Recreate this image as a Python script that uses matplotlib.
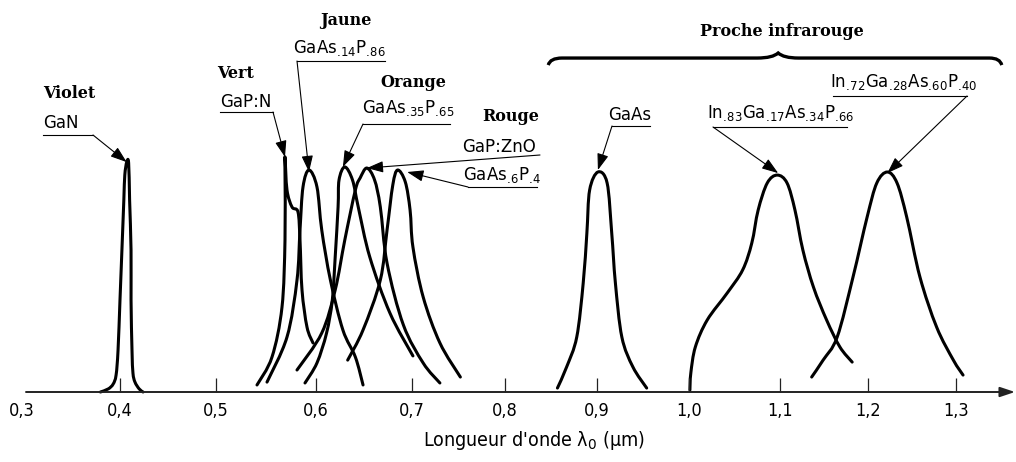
import numpy as np
import matplotlib
matplotlib.use('Agg')
import matplotlib.pyplot as plt
from matplotlib.path import Path
from matplotlib.patches import PathPatch

# x axis ticks (micrometres) and their labels
ticks = [0.3, 0.4, 0.5, 0.6, 0.7, 0.8, 0.9, 1.0, 1.1, 1.2, 1.3]
tick_labels = ['0,3', '0,4', '0,5', '0,6', '0,7', '0,8', '0,9', '1,0', '1,1', '1,2', '1,3']

# emission spectra: wavelength (um) / relative intensity
gan_um = [0.380, 0.388, 0.393, 0.396, 0.398, 0.400, 0.402, 0.404, 0.405, 0.407,
          0.409, 0.410, 0.4115, 0.4115, 0.4125, 0.4135, 0.4156, 0.420, 0.424]
gan_i = [0.0, 0.014, 0.036, 0.077, 0.19, 0.42, 0.645, 0.873, 0.986, 1.045,
         1.041, 0.873, 0.645, 0.418, 0.19, 0.086, 0.045, 0.014, 0.0]

gapn_um = [0.541, 0.556, 0.566, 0.569, 0.569, 0.569, 0.571, 0.576, 0.582, 0.584, 0.586, 0.591, 0.597]
gapn_i = [0.032, 0.159, 0.386, 0.691, 0.995, 1.068, 0.918, 0.841, 0.818, 0.691, 0.464, 0.295, 0.223]

jaune_um = [0.551, 0.571, 0.581, 0.584, 0.587, 0.593, 0.601, 0.606, 0.615, 0.628, 0.641, 0.649]
jaune_i = [0.045, 0.25, 0.509, 0.736, 0.932, 1.009, 0.932, 0.736, 0.509, 0.282, 0.159, 0.032]

orange_um = [0.589, 0.601, 0.611, 0.617, 0.620, 0.623, 0.624, 0.630, 0.638, 0.644, 0.656, 0.677, 0.701]
orange_i = [0.041, 0.132, 0.268, 0.418, 0.614, 0.841, 0.964, 1.023, 0.964, 0.841, 0.614, 0.359, 0.164]

gapzno_um = [0.581, 0.606, 0.620, 0.630, 0.641, 0.646, 0.653, 0.661, 0.667, 0.674, 0.691, 0.712, 0.730]
gapzno_i = [0.10, 0.268, 0.464, 0.691, 0.918, 0.973, 1.018, 0.964, 0.841, 0.586, 0.305, 0.132, 0.041]

rouge_um = [0.633, 0.649, 0.667, 0.674, 0.680, 0.685, 0.693, 0.698, 0.701, 0.712, 0.730, 0.752]
rouge_i = [0.145, 0.282, 0.509, 0.736, 0.941, 1.009, 0.955, 0.827, 0.659, 0.432, 0.223, 0.068]

gaas_um = [0.857, 0.867, 0.878, 0.885, 0.889, 0.892, 0.901, 0.911, 0.916, 0.920, 0.927, 0.939, 0.954]
gaas_i = [0.018, 0.114, 0.25, 0.495, 0.723, 0.918, 1.0, 0.95, 0.723, 0.495, 0.25, 0.114, 0.018]

in83_um = [1.001, 1.002, 1.007, 1.020, 1.042, 1.059, 1.069, 1.076, 1.086, 1.097,
           1.108, 1.117, 1.126, 1.138, 1.153, 1.168, 1.182]
in83_i = [0.009, 0.086, 0.205, 0.327, 0.45, 0.555, 0.677, 0.827, 0.95, 0.986,
          0.95, 0.827, 0.645, 0.477, 0.327, 0.205, 0.136]

in72_um = [1.136, 1.149, 1.165, 1.183, 1.199, 1.210, 1.222, 1.233, 1.244, 1.259, 1.278, 1.297, 1.308]
in72_i = [0.068, 0.145, 0.25, 0.523, 0.795, 0.95, 1.0, 0.95, 0.795, 0.523, 0.295, 0.145, 0.077]

spectra = [(gan_um, gan_i), (gapn_um, gapn_i), (jaune_um, jaune_i), (orange_um, orange_i),
           (gapzno_um, gapzno_i), (rouge_um, rouge_i), (gaas_um, gaas_i),
           (in83_um, in83_i), (in72_um, in72_i)]

# compound names and where their arrows point (um, intensity)
compounds = ['GaN', 'GaP:N', r'GaAs$_{.\!14}$P$_{.\!86}$', r'GaAs$_{.\!35}$P$_{.\!65}$', 'GaP:ZnO',
             r'GaAs$_{.\!6}$P$_{.\!4}$', 'GaAs', r'In$_{.\!83}$Ga$_{.\!17}$As$_{.\!34}$P$_{.\!66}$',
             r'In$_{.\!72}$Ga$_{.\!28}$As$_{.\!60}$P$_{.\!40}$']
tip_um = [0.407, 0.569, 0.593, 0.628, 0.653, 0.695, 0.901, 1.098, 1.222]
tip_i = [1.045, 1.068, 1.0, 1.023, 1.018, 1.0, 1.009, 0.995, 0.995]

colour_names = ['Violet', 'Vert', 'Jaune', 'Orange', 'Rouge', 'Proche infrarouge']

W, H = 1016, 462


def fr(x, y):
    # pixel position -> axes fraction
    return (x / W, 1 - y / H)


# the hand drawn axis is not quite linear: piecewise map um -> pixel
scale_um = [0.2] + ticks + [1.4]
scale_px = [-76, 22, 120, 216, 316, 412, 505, 597, 689, 780, 868, 956, 1044]


def fwd(v):
    return np.interp(v, scale_um, scale_px)


def inv(p):
    return np.interp(p, scale_px, scale_um)


def smooth(xs, ys):
    pts = np.column_stack([xs, ys]).astype(float)
    verts = [pts[0]]
    codes = [Path.MOVETO]
    n = len(pts)
    for i in range(n - 1):
        p0 = pts[max(i - 1, 0)]
        p1 = pts[i]
        p2 = pts[i + 1]
        p3 = pts[min(i + 2, n - 1)]
        verts += [p1 + (p2 - p0) / 6, p2 - (p3 - p1) / 6, p2]
        codes += [Path.CURVE4] * 3
    return Path(verts, codes)


narrow = dict(family='DejaVu Sans', stretch='condensed')

fig = plt.figure(figsize=(W / 100, H / 100), dpi=100)
ax = fig.add_axes([0, 0, 1, 1])
ax.set_xscale('function', functions=(fwd, inv))
ax.set_xlim(inv(0), inv(W))
ax.set_ylim(-70 / 220, 392 / 220)
for s in ax.spines.values():
    s.set_visible(False)
ax.spines['bottom'].set_position(('data', 0))
ax.set_yticks([])
ax.set_xticks(ticks)
ax.set_xticklabels(tick_labels, fontsize=13, **narrow)
ax.xaxis.set_minor_locator(matplotlib.ticker.NullLocator())
ax.tick_params(axis='x', direction='in', length=10, width=0.9, pad=7, color='#222222')
xt = ax.xaxis.get_major_ticks()
xt[0].tick1line.set_visible(False)
xt[1].tick1line.set_color('#bbbbbb')

# axis line with arrow
ax.annotate('', xy=(1015 / W, 0), xycoords=('axes fraction', 'data'),
            xytext=(26 / W, 0), textcoords=('axes fraction', 'data'),
            arrowprops=dict(arrowstyle='-|>,head_length=0.9,head_width=0.3',
                            lw=1.4, color='#222222', shrinkA=0, shrinkB=0))

for xs, ys in spectra:
    ax.add_patch(PathPatch(smooth(xs, ys), fill=False, lw=2.2, color='black',
                           capstyle='round', joinstyle='round'))

# compound labels: text (left, baseline), underline (x0, x1, y), leader start
text_px = [(43, 128), (220, 107), (293, 53), (362, 113), (462, 152),
           (463, 180), (608, 120), (707, 118), (830, 87)]
uline_px = [(43, 93, 135), (220, 273, 112), (297, 385, 61), (363, 450, 124), None,
            (468, 537, 187), (612, 650, 126), (713, 847, 127), (833, 967, 96)]
start_px = [(93, 135), (273, 112), (297, 61), (363, 124), (540, 155),
            (468, 187), (612, 126), (713, 127), (967, 96)]

for name, tx, ty, tp, ul, st in zip(compounds, tip_um, tip_i, text_px, uline_px, start_px):
    ax.text(*fr(*tp), name, transform=ax.transAxes, fontsize=12,
            family='DejaVu Sans', va='baseline', ha='left')
    if ul is not None:
        ax.plot([ul[0] / W, ul[1] / W], [1 - ul[2] / H] * 2, transform=ax.transAxes,
                color='black', lw=0.8)
    ax.annotate('', xy=(tx, ty), xycoords='data', xytext=fr(*st), textcoords='axes fraction',
                arrowprops=dict(arrowstyle='-|>,head_length=1.0,head_width=0.35',
                                lw=0.8, color='black', shrinkA=0, shrinkB=0))

# colour group headings
head_px = [(43, 98), (217, 78), (320, 25), (380, 87), (482, 121), (700, 36)]
for name, hp in zip(colour_names, head_px):
    ax.text(*fr(*hp), name, transform=ax.transAxes, fontsize=11.5, fontweight='bold',
            family='DejaVu Serif', va='baseline', ha='left')

# curly brace over the near infrared group
brace = Path([(0.847, 1.486), (0.849, 1.518), (0.862, 1.518), (1.075, 1.518),
              (1.092, 1.518), (1.098, 1.541), (1.104, 1.518), (1.121, 1.518),
              (1.338, 1.518), (1.350, 1.518), (1.352, 1.486)],
             [Path.MOVETO, Path.CURVE3, Path.CURVE3, Path.LINETO, Path.CURVE3, Path.CURVE3,
              Path.CURVE3, Path.CURVE3, Path.LINETO, Path.CURVE3, Path.CURVE3])
ax.add_patch(PathPatch(brace, fill=False, lw=2.4, color='black'))

ax.text(*fr(534, 440), r"Longueur d'onde λ$_0$ (µm)", transform=ax.transAxes,
        fontsize=14, ha='center', va='center', **narrow)

fig.savefig('out.png', dpi=100)
